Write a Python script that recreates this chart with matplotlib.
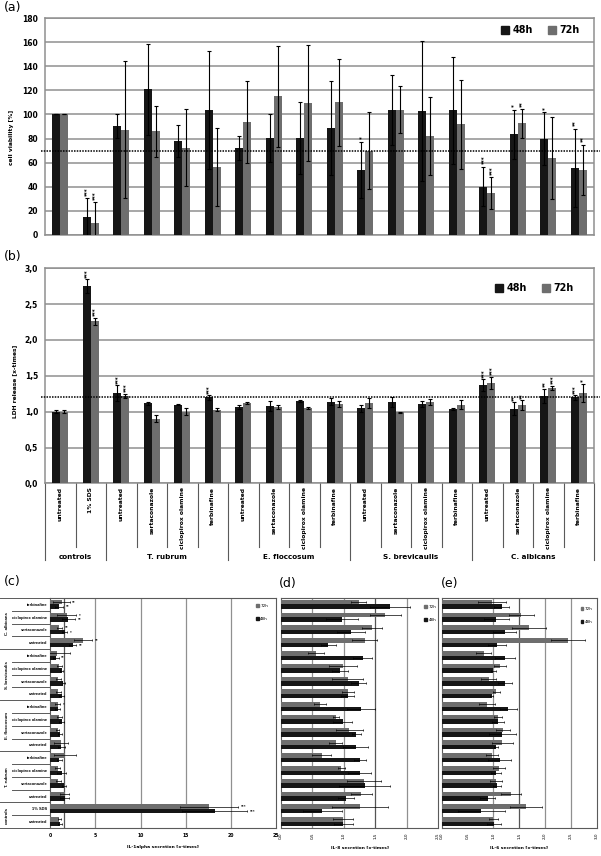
import numpy as np
import matplotlib
matplotlib.use("Agg")
import matplotlib.pyplot as plt
from matplotlib.patches import Patch
from matplotlib import font_manager

plt.rcParams['font.family'] = ['DejaVu Sans']

# categories
groups = ["controls", "T. rubrum", "E. floccosum", "S. brevicaulis", "C. albicans"]
group_sizes = [2, 4, 4, 4, 4]
treatments = ["untreated", "sertaconazole", "ciclopirox olamine", "terbinafine"]
labels = ["untreated", "1% SDS"] + treatments * 4

# (a) cell viability [%]
via48 = [100, 14.5, 90.5, 121, 78, 104, 72, 80.5, 80.5, 88.5, 54, 104, 103, 103.5, 40, 83.5, 80, 55.5]
via48_err = [0, 16, 10, 38, 13.5, 49, 10, 20, 30, 39, 23.5, 29, 58.5, 44.5, 16.5, 20.5, 22, 32.5]
via72 = [100, 10, 87.5, 86, 72.5, 56, 94, 115, 109.5, 110, 70, 104, 82, 92, 34.5, 92.5, 64, 54]
via72_err = [0, 17, 57, 21, 32, 32.5, 34, 42, 48, 36, 32, 19.5, 32.5, 37, 13.5, 12, 34, 21]
via48_sig = ["", "***", "", "", "", "", "", "", "", "", "*", "", "", "", "***", "*", "*", "**"]
via72_sig = ["", "***", "", "", "", "", "", "", "", "", "", "", "", "", "***", "**", "", "**"]

# (b) LDH release [x-times]
ldh48 = [1.0, 2.75, 1.26, 1.12, 1.10, 1.20, 1.07, 1.08, 1.15, 1.14, 1.05, 1.13, 1.11, 1.04, 1.37, 1.04, 1.22, 1.20]
ldh48_err = [0.02, 0.1, 0.11, 0.02, 0.01, 0.03, 0.03, 0.07, 0.01, 0.05, 0.05, 0.07, 0.04, 0.01, 0.08, 0.09, 0.1, 0.03]
ldh72 = [1.0, 2.26, 1.22, 0.90, 1.0, 1.03, 1.12, 1.07, 1.05, 1.11, 1.12, 0.99, 1.14, 1.10, 1.40, 1.09, 1.33, 1.26]
ldh72_err = [0.02, 0.05, 0.03, 0.05, 0.05, 0.02, 0.015, 0.03, 0.01, 0.04, 0.07, 0.01, 0.04, 0.06, 0.09, 0.07, 0.03, 0.13]
ldh48_sig = ["", "***", "***", "", "", "***", "", "", "", "", "", "", "", "", "***", "**", "**", "***"]
ldh72_sig = ["", "***", "***", "", "", "", "", "", "", "", "", "", "", "", "***", "**", "***", "*"]

# (c) IL-1alpha secretion [x-times]
il1_48 = [1.05, 18.2, 1.6, 1.55, 1.25, 1.0, 1.2, 1.05, 1.25, 0.8, 1.25, 1.45, 1.25, 0.63, 2.5, 1.6, 2.0, 1.0]
il1_48_err = [0.2, 3.6, 0.5, 0.2, 0.5, 0.3, 0.4, 0.2, 0.3, 0.3, 0.3, 0.2, 0.2, 0.3, 0.4, 0.3, 0.75, 0.45]
il1_72 = [1.0, 17.6, 1.6, 0.9, 0.8, 1.6, 1.2, 0.8, 1.0, 0.8, 0.9, 0.9, 1.0, 0.7, 3.65, 1.0, 1.8, 1.25]
il1_72_err = [0.2, 3.2, 0.5, 0.3, 0.3, 1.2, 0.8, 0.2, 0.3, 0.3, 0.3, 0.3, 0.3, 1.5, 1.0, 0.3, 1.1, 0.9]
il1_48_sig = ["", "***", "", "", "", "", "", "", "", "", "", "", "", "**", "**", "*", "**", "**"]
il1_72_sig = ["", "***", "", "", "", "", "", "", "", "*", "", "", "", "", "**", "**", "*", "**"]

# (d) IL-8 secretion [x-times]
il8_48 = [0.99, 0.655, 1.03, 1.33, 1.25, 1.26, 1.19, 1.20, 0.98, 1.27, 1.06, 1.24, 0.935, 1.30, 0.755, 1.11, 0.97, 1.74]
il8_48_err = [0.15, 0.31, 0.13, 0.4, 0.18, 0.1, 0.2, 0.07, 0.15, 0.22, 0.11, 0.12, 0.13, 0.15, 0.12, 0.22, 0.25, 0.32]
il8_72 = [0.99, 1.26, 1.28, 1.32, 0.96, 0.645, 0.87, 1.09, 0.88, 0.62, 1.07, 1.06, 0.99, 0.555, 1.33, 1.45, 1.66, 1.24]
il8_72_err = [0.16, 0.44, 0.17, 0.27, 0.06, 0.15, 0.1, 0.22, 0.05, 0.1, 0.1, 0.24, 0.22, 0.13, 0.2, 0.16, 0.25, 0.12]

# (e) IL-6 secretion [x-times]
il6_48 = [1.01, 0.77, 0.89, 1.075, 1.05, 1.125, 1.05, 1.175, 1.09, 1.29, 0.97, 1.22, 1.0, 1.22, 1.07, 1.22, 1.06, 1.16]
il6_48_err = [0.13, 0.45, 0.14, 0.08, 0.09, 0.22, 0.04, 0.26, 0.12, 0.16, 0.03, 0.14, 0.05, 0.19, 0.18, 0.22, 0.24, 0.14]
il6_72 = [1.0, 1.625, 1.34, 1.05, 1.11, 0.97, 1.175, 1.19, 1.09, 0.875, 1.06, 0.91, 1.125, 0.81, 2.44, 1.69, 1.54, 0.97]
il6_72_err = [0.08, 0.31, 0.19, 0.11, 0.11, 0.11, 0.2, 0.14, 0.07, 0.16, 0.06, 0.14, 0.11, 0.14, 0.33, 0.33, 0.24, 0.27]

BLACK = "#161616"
GREY = "#6e6e6e"
GRID = "#909090"
LINE = "#5a5a5a"

names = {f.name for f in font_manager.fontManager.ttflist}
if "Liberation Sans Narrow" in names:
    narrow, narrow_size = "Liberation Sans Narrow", 3.4
else:
    narrow, narrow_size = "Liberation Sans", 2.9

W, H = 601, 856
fig = plt.figure(figsize=(W / 100, H / 100), dpi=100)


def box(x0, y0, x1, y1):
    return [x0 / W, 1 - y1 / H, (x1 - x0) / W, (y1 - y0) / H]


ax_a = fig.add_axes(box(45, 18.3, 594, 234.7))
ax_b = fig.add_axes(box(45, 268.3, 594, 483.4))
ax_c = fig.add_axes(box(50.3, 598, 276, 828))
ax_d = fig.add_axes(box(281, 598, 438, 828))
ax_e = fig.add_axes(box(441.7, 598, 596.7, 828))


def vbars(ax, v48, e48, v72, e72, s48, s72, ymax, step, ref, pad, comma):
    x = np.arange(len(labels))
    w = 0.27
    ax.bar(x - w / 2, v48, w, color=BLACK, zorder=3)
    ax.bar(x + w / 2, v72, w, color=GREY, zorder=3)
    for xs, v, e, s in [(x - w / 2, v48, e48, s48), (x + w / 2, v72, e72, s72)]:
        ax.errorbar(xs, v, yerr=e, fmt='none', ecolor='black', elinewidth=0.8,
                    capsize=1.6, capthick=0.8, zorder=4)
        for xi, vi, ei, si in zip(xs, v, e, s):
            if si:
                ax.text(xi, vi + ei + pad, si, rotation=90, ha='center', va='bottom',
                        fontsize=4, fontweight='bold')
    ax.set_xlim(-0.5, 17.5)
    ax.set_ylim(0, ymax)
    ticks = np.arange(0, ymax + step / 2, step)
    ax.set_yticks(ticks)
    if comma:
        ax.set_yticklabels([f"{t:.1f}".replace(".", ",") for t in ticks])
    else:
        ax.set_yticklabels([f"{t:.0f}" for t in ticks])
    for t in ax.get_yticklabels():
        t.set_fontweight('bold')
    ax.tick_params(axis='y', length=0, labelsize=5.5, pad=5)
    ax.set_xticks([])
    ax.yaxis.grid(True, color=GRID, lw=1.1)
    ax.set_axisbelow(True)
    for sp in ax.spines.values():
        sp.set_color(GRID)
        sp.set_linewidth(1.1)
    ax.plot([-0.62, 17.7], [ref, ref], ls=(0, (1, 0.8)), color='black', lw=1.1,
            clip_on=False, zorder=5)
    leg = ax.legend(handles=[Patch(color=BLACK, label='48h'), Patch(color=GREY, label='72h')],
                    ncol=2, frameon=False, prop={'size': 6.9, 'weight': 'bold'},
                    handlelength=0.8, handleheight=0.8, handletextpad=0.4,
                    columnspacing=1.6, borderpad=0, borderaxespad=0,
                    loc='upper right')
    return leg


leg = vbars(ax_a, via48, via48_err, via72, via72_err, via48_sig, via72_sig, 180, 20, 70, 2, False)
leg.set_bbox_to_anchor((0.9745, 0.967))
leg = vbars(ax_b, ldh48, ldh48_err, ldh72, ldh72_err, ldh48_sig, ldh72_sig, 3.0, 0.5, 1.2, 0.02, True)
leg.set_bbox_to_anchor((0.9636, 0.93))

# category table below (b)
tr = ax_b.get_xaxis_transform()
bounds = list(np.cumsum([0] + group_sizes) - 0.5)
for k in range(len(labels) + 1):
    xk = k - 0.5
    low = -0.356 if xk in bounds else -0.296
    ax_b.plot([xk, xk], [0, low], transform=tr, color=LINE, lw=0.8, clip_on=False)
for i, lab in enumerate(labels):
    ax_b.text(i, -0.017, lab, transform=tr, rotation=90, ha='center', va='top',
              fontsize=4.3, fontweight='bold')
for g, a, b in zip(groups, bounds[:-1], bounds[1:]):
    ax_b.text((a + b) / 2, -0.34, g, transform=tr, ha='center', va='center',
              fontsize=5.2, fontweight='bold')

fig.text(12 / W, 1 - 137 / H, "cell viability [%]", rotation=90, ha='center', va='center',
         fontsize=4.3, fontweight='bold')
fig.text(15 / W, 1 - 381 / H, "LDH release [x-times]", rotation=90, ha='center', va='center',
         fontsize=4.3, fontweight='bold')


def hbars(ax, v48, e48, v72, e72, xmax, step, grid, dark, xlabel, legx, legy):
    y = np.arange(len(labels))
    h = 0.35
    ax.barh(y + h / 2, v72, h, color=GREY, zorder=3)
    ax.barh(y - h / 2, v48, h, color=BLACK, zorder=3)
    ax.errorbar(v72, y + h / 2, xerr=e72, fmt='none', ecolor='black', elinewidth=0.5,
                capsize=0.8, capthick=0.5, zorder=4)
    ax.errorbar(v48, y - h / 2, xerr=e48, fmt='none', ecolor='black', elinewidth=0.5,
                capsize=0.8, capthick=0.5, zorder=4)
    ax.set_ylim(-0.5, 17.5)
    ax.set_xlim(0, xmax)
    for g in grid:
        ax.axvline(g, color=GRID, lw=0.9, zorder=1)
    ax.axvline(dark, color="#555555", lw=0.9, zorder=1)
    ticks = np.arange(0, xmax + step / 2, step)
    ax.set_xticks(ticks)
    for sp in ax.spines.values():
        sp.set_color(LINE)
        sp.set_linewidth(0.8)
    ax.tick_params(length=0)
    ax.set_xlabel(xlabel, fontsize=3.2, fontweight='bold', labelpad=5)
    ax.legend(handles=[Patch(color=GREY, label='72h'), Patch(color=BLACK, label='48h')],
              frameon=False, prop={'size': 3}, handlelength=0.7, handleheight=0.7,
              handletextpad=0.4, labelspacing=2.2, borderpad=0, borderaxespad=0,
              loc='upper right', bbox_to_anchor=(legx, legy))
    return ticks


ticks = hbars(ax_c, il1_48, il1_48_err, il1_72, il1_72_err, 25, 5, [5, 10, 15, 20], 1.5,
              "IL-1alpha secretion [x-times]", 0.965, 0.975)
ax_c.set_xticklabels([f"{t:.0f}" for t in ticks], fontsize=3.3, fontweight='bold')
ax_c.set_yticks(np.arange(len(labels)))
ax_c.set_yticklabels(labels, fontsize=narrow_size, fontweight='bold', family=narrow)
ax_c.tick_params(axis='y', pad=2)
for yi, (v, e, s) in enumerate(zip(il1_72, il1_72_err, il1_72_sig)):
    if s:
        ax_c.text(v + e + 0.3, yi + 0.175, s, fontsize=2.5, va='center', fontweight='bold')
for yi, (v, e, s) in enumerate(zip(il1_48, il1_48_err, il1_48_sig)):
    if s:
        ax_c.text(v + e + 0.3, yi - 0.175, s, fontsize=2.5, va='center', fontweight='bold')

# left table of (c)
trc = ax_c.get_yaxis_transform()
for k in range(len(labels) + 1):
    yk = k - 0.5
    left = -0.223 if yk in bounds else -0.17
    ax_c.plot([left, 0], [yk, yk], transform=trc, color=LINE, lw=0.7, clip_on=False)
for g, a, b in zip(groups, bounds[:-1], bounds[1:]):
    ax_c.text(-0.193, (a + b) / 2, g, transform=trc, rotation=90, ha='center', va='center',
              fontsize=3.2, fontweight='bold', family=narrow)

ticks = hbars(ax_d, il8_48, il8_48_err, il8_72, il8_72_err, 2.5, 0.5, [0.5, 1.0, 2.0], 1.5,
              "IL-8 secretion [x-times]", 0.99, 0.97)
ax_d.set_xticklabels([f"{t:.1f}".replace(".", ",") for t in ticks], fontsize=3, rotation=90)
ax_d.set_yticks([])

ticks = hbars(ax_e, il6_48, il6_48_err, il6_72, il6_72_err, 3.0, 0.5, [1.0, 2.0, 2.5], 1.5,
              "IL-6 secretion [x-times]", 0.976, 0.96)
ax_e.set_xticklabels([f"{t:.1f}".replace(".", ",") for t in ticks], fontsize=3, rotation=90)
ax_e.set_yticks([])

for lab, x, y in [("(a)", 4, 1), ("(b)", 4, 250), ("(c)", 4, 575), ("(d)", 279, 577), ("(e)", 441, 577)]:
    fig.text(x / W, 1 - y / H, lab, ha='left', va='top', fontsize=9)

fig.savefig("out.png", dpi=100, facecolor='white')
